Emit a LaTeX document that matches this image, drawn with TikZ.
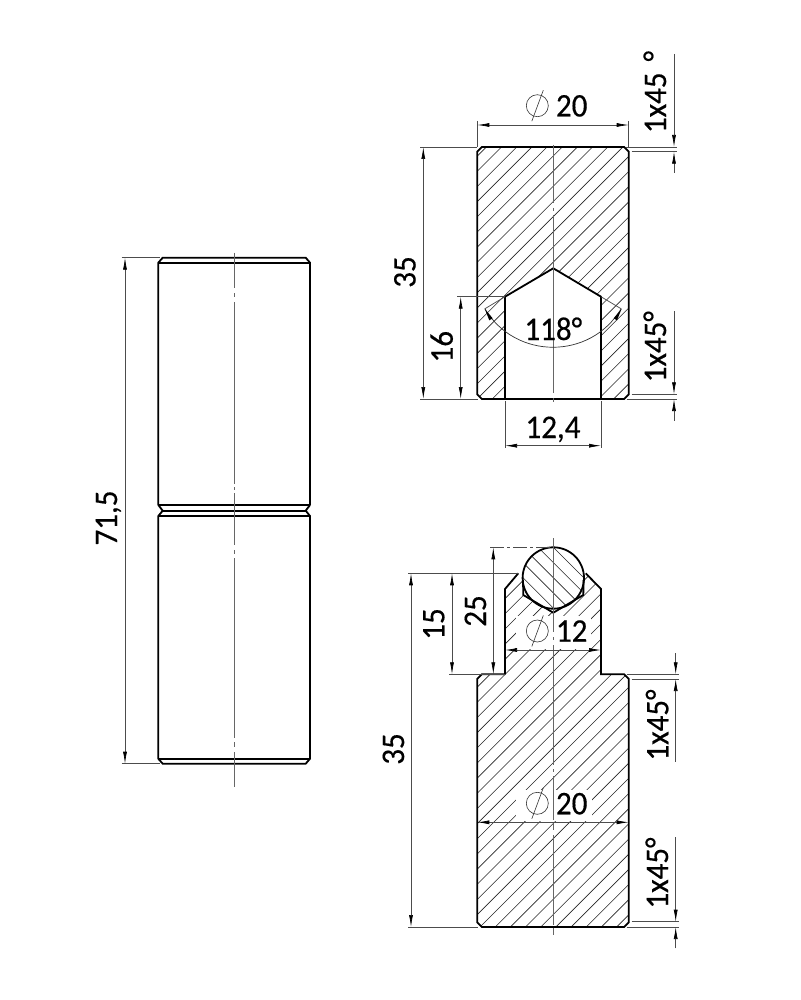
\documentclass[tikz,border=0pt]{standalone}
\usepackage{fontspec}
\setmainfont{Carlito}[FakeBold=0.4,FakeStretch=0.94]
\usetikzlibrary{arrows.meta}
\tikzset{
  x=1pt,y=-1pt,
  outline/.style={line width=1.8pt,line join=miter,draw=black},
  thinline/.style={line width=0.7pt,draw=black!70},
  dimline/.style={line width=0.7pt,draw=black!70,{Latex[length=12pt,width=4pt,black]}-{Latex[length=12pt,width=4pt,black]}},
  tipline/.style={line width=0.7pt,draw=black!70,-{Latex[length=12pt,width=4pt,black]}},
  centerline/.style={line width=0.7pt,draw=black!60},
  hatchline/.style={line width=0.6pt,draw=black!85},
  label/.style={font=\fontsize{33}{33}\selectfont,inner sep=0pt,text height=20pt,text depth=0pt,anchor=center},
  phi/.style={line width=0.6pt,draw=black!80},
}
\newcommand{\hatchup}[2]{\foreach \i in {#1,...,#2}{\pgfmathsetmacro{\cc}{11.4+15.17*\i}\draw[hatchline] ({\cc-100},100) -- ({\cc-1000},1000);}}
\newcommand{\diam}[2]{\draw[phi] (#1,#2) circle (11); \draw[phi] ({#1+6},{#2-15.5}) -- ({#1-5.5},{#2+15.5});}
\begin{document}
\begin{tikzpicture}
\useasboundingbox (0,0) rectangle (800,1000);
\fill[white] (0,0) rectangle (800,1000);

% ---------- left view
\draw[outline] (158.3,505) -- (158.3,262.7) -- (162.7,257.7) -- (305.7,257.7) -- (310,262.7) -- (310,505);
\draw[outline] (158.3,262.7) -- (310,262.7);
\draw[outline,line width=1.2pt] (158.3,505) -- (310,505);
\draw[outline] (158.3,505) -- (162.7,510.7) -- (158.3,516) -- (158.3,758.7) -- (162.7,763.7) -- (305.7,763.7) -- (310,758.7) -- (310,516) -- (305.7,510.7) -- (310,505);
\draw[outline] (162.7,510.7) -- (305.7,510.7);
\draw[outline,line width=1.2pt] (158.3,516) -- (310,516);
\draw[outline] (158.3,758.7) -- (310,758.7);
\draw[centerline] (234.3,252.7) -- (234.3,288) (234.3,293) -- (234.3,297) (234.3,302) -- (234.3,484) (234.3,487) -- (234.3,490) (234.3,493) -- (234.3,545) (234.3,550) -- (234.3,554) (234.3,558) -- (234.3,738) (234.3,742) -- (234.3,747) (234.3,752) -- (234.3,786.7);
\coordinate (lt) at (160,257.7);
\coordinate (lb) at (160,763.7);
\coordinate (ltd) at (125,257.7);
\coordinate (lbd) at (125,763.7);
\draw[thinline] (121.7,257.7) -- (lt) (121.7,763.7) -- (lb);
\draw[dimline] (ltd) -- (lbd);
\node[label,rotate=90] (t715) at (107,518) {71,5};

% ---------- top section
\begin{scope}
\clip (477.3,151.5) -- (481.8,147) -- (624.2,147) -- (628.7,151.5) -- (628.7,394.5) -- (624.2,399) -- (481.8,399) -- (477.3,394.5) -- cycle;
\hatchup{38}{70}
\end{scope}
\fill[white] (505,399) -- (505,296.7) -- (553.3,268.3) -- (601,296.7) -- (601,399) -- cycle;
\draw[outline] (477.3,151.5) -- (481.8,147) -- (624.2,147) -- (628.7,151.5) -- (628.7,394.5) -- (624.2,399) -- (481.8,399) -- (477.3,394.5) -- cycle;
\draw[outline] (505,399) -- (505,296.7) -- (553.3,268.3) -- (601,296.7) -- (601,399);
\draw[centerline] (553.3,145) -- (553.3,203) (553.3,208) -- (553.3,211) (553.3,215) -- (553.3,393) (553.3,398) -- (553.3,402);
% phi 20
\coordinate (a1) at (477.3,125); \coordinate (a2) at (628.7,125);
\draw[thinline] (477.3,121) -- (477.3,147) (628.7,121) -- (628.7,147);
\draw[dimline] (a1) -- (a2);
\diam{537.3}{105.7}
\node[label] (t20a) at (571.7,106.5) {20};
% chamfer top
\draw[thinline] (626,147) -- (677,147) (631.7,151.7) -- (677,151.7);
\coordinate (c1a) at (674,54); \coordinate (c1b) at (674,147); \coordinate (c1c) at (674,173); \coordinate (c1d) at (674,151.7);
\draw[tipline] (c1a) -- (c1b);
\draw[tipline] (c1c) -- (c1d);
\node[label,rotate=90] (t1a) at (656,92) {1x45\,\,°};
% 35
\draw[thinline] (420,147) -- (477,147) (420,399) -- (478,399);
\coordinate (d1) at (423.3,147); \coordinate (d2) at (423.3,399);
\draw[dimline] (d1) -- (d2);
\node[label,rotate=90] (t35a) at (405.5,272) {35};
% 16
\draw[thinline] (457,296.7) -- (505,296.7);
\coordinate (d3) at (460.7,296.7); \coordinate (d4) at (460.7,399);
\draw[dimline] (d3) -- (d4);
\node[label,rotate=90] (t16) at (442.7,346.7) {16};
% 118
\draw[thinline] (505,296.7) -- (484.5,309) (601,296.7) -- (621.5,309);
\draw[thinline,draw=black!80] (485,309) .. controls (515.8,360) and (590.2,360) .. (621,309);
\fill[black] (484.8,309) -- (492.7,318.3) -- (489.3,320.3) -- cycle;
\fill[black] (621.5,309) -- (613.6,318.3) -- (617,320.3) -- cycle;
\node[label] (t118) at (553.3,330) {118°};
% 12,4
\draw[thinline] (505,401) -- (505,448) (601,401) -- (601,448);
\coordinate (e1) at (505,445.7); \coordinate (e2) at (601,445.7);
\draw[dimline] (e1) -- (e2);
\node[label] (t124) at (553,428) {12,4};
% chamfer lower
\draw[thinline] (631.7,394.3) -- (677,394.3) (626.7,399) -- (677,399);
\coordinate (c2a) at (674,311); \coordinate (c2b) at (674,394.3); \coordinate (c2c) at (674,420.7); \coordinate (c2d) at (674,399);
\draw[tipline] (c2a) -- (c2b);
\draw[tipline] (c2c) -- (c2d);
\node[label,rotate=90] (t1b) at (656,346.7) {1x45°};

% ---------- bottom section
\begin{scope}
\clip (505,674.3) -- (505,589) -- (518.3,573.3) -- (585.7,573.3) -- (601,589) -- (601,674.3) -- (624.2,674.3) -- (628.7,678.8) -- (628.7,922.5) -- (624.2,927) -- (481.8,927) -- (477.3,922.5) -- (477.3,678.8) -- (481.8,674.3) -- cycle;
\hatchup{68}{104}
\end{scope}
\fill[white] (516,616) rectangle (591,649);
\fill[white] (516,790) rectangle (592,821);
\fill[white] (523.3,575) -- (523.3,595) -- (553.3,612.7) -- (583.3,595) -- (583.3,575) -- cycle;
\fill[white] (553.3,578) circle (30.7);
\begin{scope}
\clip (553.3,578) circle (30.7);
\foreach \i in {-5,...,8}{\pgfmathsetmacro{\cc}{6+15.2*\i}\draw[hatchline] ({\cc+500},500) -- ({\cc+650},650);}
\end{scope}
\draw[outline] (505,674.3) -- (505,589) -- (518.3,573.3) (585.7,573.3) -- (601,589) -- (601,674.3) -- (624.2,674.3) -- (628.7,678.8) -- (628.7,922.5) -- (624.2,927) -- (481.8,927) -- (477.3,922.5) -- (477.3,678.8) -- (481.8,674.3) -- (505,674.3);
\draw[outline] (523,580) -- (523.3,595) -- (553.3,612.7) -- (583.3,595) -- (583.6,580);
\draw[outline] (553.3,578) circle (30.7);
\draw[centerline] (553.3,538) -- (553.3,632) (553.3,637) -- (553.3,640) (553.3,645) -- (553.3,765) (553.3,769) -- (553.3,772) (553.3,776) -- (553.3,820) (553.3,824) -- (553.3,830) (553.3,835) -- (553.3,925) (553.3,928) -- (553.3,935);
% 25
\draw[thinline,dash pattern=on 14pt off 3pt on 3pt off 3pt] (490,547.3) -- (553,547.3);
\draw[thinline] (449,674.3) -- (505,674.3);
\coordinate (f1) at (493.3,547.3); \coordinate (f2) at (493.3,674.3);
\draw[dimline] (f1) -- (f2);
\node[label,rotate=90] (t25) at (476,611) {25};
% 15
\draw[thinline] (408,573.3) -- (518,573.3);
\coordinate (g1) at (452,573.3); \coordinate (g2) at (452,674.3);
\draw[dimline] (g1) -- (g2);
\node[label,rotate=90] (t15) at (434.3,624) {15};
% 35
\draw[thinline] (408,927) -- (478,927);
\coordinate (h1) at (411,573.3); \coordinate (h2) at (411,927);
\draw[dimline] (h1) -- (h2);
\node[label,rotate=90] (t35b) at (394,749) {35};
% phi 12
\coordinate (i1) at (505,650); \coordinate (i2) at (601,650);
\draw[dimline] (i1) -- (i2);
\diam{537.3}{631}
\node[label] (t12) at (571.7,631.7) {12};
% phi 20
\coordinate (j1) at (477.3,822.3); \coordinate (j2) at (628.7,822.3);
\draw[dimline] (j1) -- (j2);
\diam{537.3}{803.3}
\node[label] (t20b) at (571.7,804.3) {20};
% chamfer mid
\draw[thinline] (626.7,674.3) -- (679,674.3) (631.7,679) -- (679,679);
\coordinate (k1) at (675.7,653.3); \coordinate (k2) at (675.7,674.3); \coordinate (k4) at (675.7,679); \coordinate (k5) at (675.7,761.7);
\draw[tipline] (k1) -- (k2);
\draw[tipline] (k5) -- (k4);
\node[label,rotate=90] (t1c) at (658.3,725) {1x45°};
% chamfer low
\draw[thinline] (631.7,921.7) -- (679,921.7) (626.7,927) -- (679,927);
\coordinate (m1) at (675.7,837.3); \coordinate (m2) at (675.7,921.7); \coordinate (m3) at (675.7,948.3); \coordinate (m4) at (675.7,927);
\draw[tipline] (m1) -- (m2);
\draw[tipline] (m3) -- (m4);
\node[label,rotate=90] (t1d) at (658,873) {1x45°};
\end{tikzpicture}
\end{document}
